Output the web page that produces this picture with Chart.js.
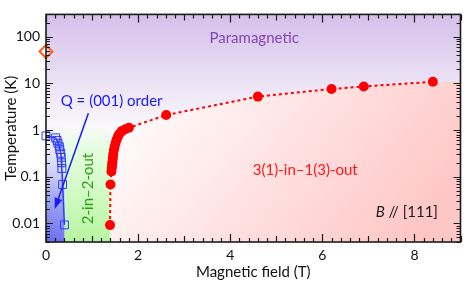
<!DOCTYPE html>
<html>
<head>
<meta charset="utf-8">
<script src="https://cdn.jsdelivr.net/npm/chart.js@4.4.0/dist/chart.umd.min.js"></script>
<style>
  html, body { margin: 0; padding: 0; background: #fff; }
</style>
</head>
<body>
<canvas id="phase" width="469" height="284"></canvas>
<script>
const FONT = "Lato, 'Open Sans', sans-serif";

// red transition line: field (T) vs temperature (K)
const redField = [1.39, 1.40, 1.42, 1.43, 1.436, 1.443, 1.451, 1.46, 1.473, 1.49, 1.511, 1.535, 1.565, 1.60, 1.651, 1.72, 1.80, 2.61, 4.60, 6.20, 6.90, 8.40];
const redTemp  = [0.0092, 0.068, 0.13, 0.155, 0.18, 0.21, 0.25, 0.30, 0.37, 0.44, 0.53, 0.63, 0.74, 0.84, 0.96, 1.04, 1.12, 2.1, 5.2, 7.6, 8.6, 10.8];

// Q = (001) order boundary (blue squares)
const blueField = [0.0, 0.21, 0.24, 0.26, 0.29, 0.30, 0.32, 0.33, 0.34, 0.345, 0.36, 0.40];
const blueTemp  = [0.75, 0.68, 0.60, 0.52, 0.44, 0.38, 0.32, 0.26, 0.20, 0.15, 0.068, 0.0093];

// zero-field point (orange diamond)
const diamondField = [0];
const diamondTemp  = [48];

// arrow from the "Q = (001) order" label: [start, tip]
const arrowField = [0.92, 0.19];
const arrowTemp  = [2.3, 0.0204];

// axis ticks
const xTicks = [0, 2, 4, 6, 8];
const yTicks = [0.01, 0.1, 1, 10, 100];

const toXY = (xs, ys) => xs.map((v, i) => ({ x: v, y: ys[i] }));

const backgroundPlugin = {
    id: "phaseBackground",
    beforeDatasetsDraw(chart) {
        const { ctx, chartArea: a, scales: { x, y } } = chart;
        ctx.save();
        ctx.beginPath();
        ctx.rect(a.left, a.top, a.width, a.height);
        ctx.clip();

        // paramagnetic wash from the top
        let g = ctx.createLinearGradient(0, a.top, 0, y.getPixelForValue(1));
        g.addColorStop(0, "#d5bfea");
        g.addColorStop(0.6, "#ece3f5");
        g.addColorStop(1, "#fbf9fd");
        ctx.fillStyle = g;
        ctx.fillRect(a.left, a.top, a.width, a.height);

        // 3(1)-in-1(3)-out region below the red line
        ctx.beginPath();
        ctx.moveTo(x.getPixelForValue(redField[0]), a.bottom);
        redField.forEach((f, i) => ctx.lineTo(x.getPixelForValue(f), y.getPixelForValue(redTemp[i])));
        ctx.lineTo(a.right, y.getPixelForValue(redTemp[redTemp.length - 1]));
        ctx.lineTo(a.right, a.bottom);
        ctx.closePath();
        const gx = x.getPixelForValue(1.5), gy = y.getPixelForValue(1.5);
        g = ctx.createLinearGradient(gx, gy, gx + 240, gy + 190);
        g.addColorStop(0, "#fffcfc");
        g.addColorStop(1, "#ffc6c6");
        ctx.fillStyle = g;
        ctx.fill();

        // 2-in-2-out region
        const xb = x.getPixelForValue(blueField[blueField.length - 1]);
        const xr = x.getPixelForValue(redField[0]);
        const yt = y.getPixelForValue(1.3);
        g = ctx.createLinearGradient(0, yt, 0, a.bottom);
        g.addColorStop(0, "rgba(205,255,195,0)");
        g.addColorStop(0.3, "rgba(220,253,210,0.85)");
        g.addColorStop(1, "#b6f6a0");
        ctx.fillStyle = g;
        ctx.fillRect(xb, yt, xr - xb, a.bottom - yt);

        // Q = (001) ordered region
        g = ctx.createLinearGradient(a.left, a.bottom, xb + 10, y.getPixelForValue(0.8));
        g.addColorStop(0, "#6a6cf0");
        g.addColorStop(0.45, "#aab0f3");
        g.addColorStop(1, "rgba(235,235,252,0.2)");
        ctx.fillStyle = g;
        ctx.fillRect(a.left, yt, xb - a.left, a.bottom - yt);

        ctx.restore();
    }
};

const annotatePlugin = {
    id: "phaseLabels",
    afterDatasetsDraw(chart) {
        const { ctx, scales: { x, y } } = chart;
        ctx.save();

        // arrow
        const x0 = x.getPixelForValue(arrowField[0]), y0 = y.getPixelForValue(arrowTemp[0]);
        const x1 = x.getPixelForValue(arrowField[1]), y1 = y.getPixelForValue(arrowTemp[1]);
        const ang = Math.atan2(y1 - y0, x1 - x0);
        ctx.strokeStyle = "#1a1aff";
        ctx.fillStyle = "#1a1aff";
        ctx.lineWidth = 1.5;
        ctx.beginPath();
        ctx.moveTo(x0, y0);
        ctx.lineTo(x1 - 6 * Math.cos(ang), y1 - 6 * Math.sin(ang));
        ctx.stroke();
        ctx.beginPath();
        ctx.moveTo(x1, y1);
        ctx.lineTo(x1 - 11 * Math.cos(ang) + 4 * Math.sin(ang), y1 - 11 * Math.sin(ang) - 4 * Math.cos(ang));
        ctx.lineTo(x1 - 11 * Math.cos(ang) - 4 * Math.sin(ang), y1 - 11 * Math.sin(ang) + 4 * Math.cos(ang));
        ctx.closePath();
        ctx.fill();

        ctx.font = "15px " + FONT;
        ctx.textBaseline = "middle";

        ctx.textAlign = "center";
        ctx.fillStyle = "#8246b8";
        ctx.fillText("Paramagnetic", x.getPixelForValue(4.52), y.getPixelForValue(91));

        ctx.textAlign = "left";
        ctx.fillStyle = "#1a1aff";
        ctx.fillText("Q = (001) order", x.getPixelForValue(0.32), y.getPixelForValue(4.26));

        ctx.textAlign = "center";
        ctx.fillStyle = "#ff1a1a";
        ctx.fillText("3(1)-in\u20131(3)-out", x.getPixelForValue(5.63), y.getPixelForValue(0.136));

        ctx.save();
        ctx.translate(x.getPixelForValue(0.907), y.getPixelForValue(0.056));
        ctx.rotate(-Math.PI / 2);
        ctx.fillStyle = "#2c9e14";
        ctx.fillText("2-in\u20132-out", 0, 0);
        ctx.restore();

        // B // [111], right aligned
        const bx = x.getPixelForValue(8.51), by = y.getPixelForValue(0.0173);
        ctx.fillStyle = "#1a1a1a";
        ctx.textAlign = "right";
        ctx.fillText(" // [111]", bx, by);
        const w = ctx.measureText(" // [111]").width;
        ctx.font = "italic 15px " + FONT;
        ctx.fillText("B", bx - w, by);

        ctx.restore();
    },
    afterDraw(chart) {
        const { ctx, chartArea: a, scales: { x, y } } = chart;
        ctx.save();
        ctx.strokeStyle = "#1a1a1a";
        ctx.lineWidth = 1.2;
        ctx.beginPath();
        // x ticks every 0.2, inward on bottom and top
        for (let i = 0; i <= 45; i++) {
            const v = i * 0.2;
            const px = Math.round(x.getPixelForValue(v)) + 0.5;
            const len = i % 10 === 0 ? 8 : (i % 5 === 0 ? 6 : 4);
            ctx.moveTo(px, a.bottom); ctx.lineTo(px, a.bottom - len);
            ctx.moveTo(px, a.top); ctx.lineTo(px, a.top + len);
        }
        // y log ticks, inward on left and right
        for (let e = -3; e <= 2; e++) {
            for (let k = 1; k <= 9; k++) {
                const v = k * Math.pow(10, e);
                if (v < y.min || v > y.max) continue;
                const py = Math.round(y.getPixelForValue(v)) + 0.5;
                const len = k === 1 ? 7 : 4;
                ctx.moveTo(a.left, py); ctx.lineTo(a.left + len, py);
                ctx.moveTo(a.right, py); ctx.lineTo(a.right - len, py);
            }
        }
        ctx.stroke();
        ctx.lineWidth = 1.6;
        ctx.strokeRect(a.left, a.top, a.right - a.left, a.bottom - a.top);
        ctx.restore();
    }
};

new Chart(document.getElementById("phase"), {
    type: "line",
    data: {
        datasets: [
            {
                data: toXY(redField, redTemp),
                borderColor: "#ff0000",
                backgroundColor: "#ff0000",
                borderWidth: 2,
                borderDash: [3, 3],
                pointRadius: 5,
                pointBorderWidth: 0,
                pointBackgroundColor: "#ff0000"
            },
            {
                data: toXY(blueField, blueTemp),
                borderColor: "#2a3cff",
                borderWidth: 1.5,
                pointStyle: "rect",
                pointRadius: 5.6,
                pointBorderWidth: 1,
                pointBorderColor: "#2a3cff",
                pointBackgroundColor: "rgba(0,0,0,0)",
                clip: false
            },
            {
                data: toXY(diamondField, diamondTemp),
                showLine: false,
                pointStyle: "rectRot",
                pointRadius: 6.5,
                pointBorderWidth: 2,
                pointBorderColor: "#ff6018",
                pointBackgroundColor: "rgba(0,0,0,0)",
                clip: false
            }
        ]
    },
    options: {
        responsive: false,
        animation: false,
        devicePixelRatio: 1,
        layout: { padding: { top: 3, right: 3, left: 0, bottom: 0 } },
        plugins: { legend: { display: false }, tooltip: { enabled: false } },
        scales: {
            x: {
                type: "linear",
                min: 0,
                max: 9,
                grid: { display: false, drawTicks: false },
                border: { display: false },
                afterBuildTicks: s => { s.ticks = xTicks.map(v => ({ value: v })); },
                afterFit: s => { s.height = 42; },
                ticks: { font: { family: FONT, size: 14 }, color: "#111", padding: 5, maxRotation: 0 },
                title: { display: true, text: "Magnetic field (T)", font: { family: FONT, size: 15 }, color: "#111", padding: { top: 0, bottom: 3 } }
            },
            y: {
                type: "logarithmic",
                min: 0.004,
                max: 300,
                grid: { display: false, drawTicks: false },
                border: { display: false },
                afterBuildTicks: s => { s.ticks = yTicks.map(v => ({ value: v })); },
                afterFit: s => { s.width = 46; },
                ticks: { font: { family: FONT, size: 14 }, color: "#111", padding: 6, callback: v => String(v) },
                title: { display: true, text: "Temperature (K)", font: { family: FONT, size: 15 }, color: "#111", padding: { top: 2, bottom: 0 } }
            }
        }
    },
    plugins: [backgroundPlugin, annotatePlugin]
});
</script>
</body>
</html>
